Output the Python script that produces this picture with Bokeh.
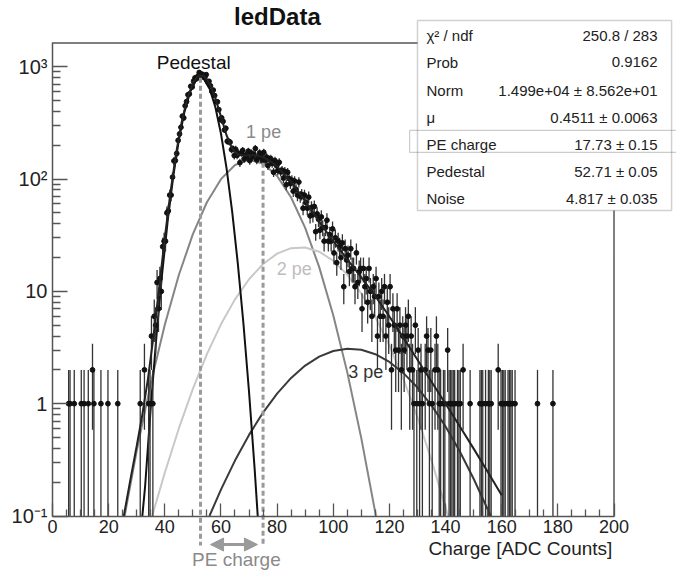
import numpy as np
from bokeh.plotting import figure
from bokeh.models import (Range1d, FixedTicker, Label, Arrow, NormalHead,
                          BoxAnnotation, ColumnDataSource)
from bokeh.embed import file_html
from bokeh.resources import INLINE

# ---------------- data (histogram "ledData", bin width 0.5 ADC) ----------------
bin_width = 0.5
main_first_centre = 35.25
main_counts = [4, 1, 6, 5, 12, 7, 13, 10, 25, 28,
               28, 50, 52, 72, 72, 104, 145, 146, 169, 221,
               252, 289, 363, 350, 449, 489, 563, 572, 670, 660,
               745, 796, 781, 821, 889, 808, 860, 841, 806, 851,
               738, 742, 677, 603, 620, 554, 488, 487, 415, 339,
               351, 326, 274, 283, 217, 217, 213, 183, 186, 162,
               184, 163, 169, 140, 171, 180, 151, 163, 158, 177,
               146, 171, 157, 166, 187, 148, 156, 171, 159, 146,
               173, 146, 157, 132, 150, 152, 138, 115, 146, 132,
               119, 141, 116, 120, 102, 117, 89, 115, 101, 91,
               98, 78, 96, 81, 72, 94, 70, 73, 55, 72,
               62, 55, 69, 47, 56, 48, 57, 34, 49, 44,
               35, 46, 37, 28, 37, 43, 28, 32, 28, 36,
               22, 30, 18, 28, 25, 20, 27, 11, 24, 19,
               21, 15, 24, 16, 16, 11, 22, 12, 15, 16,
               7, 16, 11, 13, 8, 16, 10, 6, 11, 9,
               13, 4, 9, 6, 10, 6, 11, 4, 8, 5,
               11, 2, 7, 5, 3, 7, 3, 5]

low_x = [5.75, 6.25, 7.75, 10.25, 11.25, 12.75, 14.25, 14.75, 17.25, 19.75, 23.25, 31.25, 32.75, 34.25, 34.75]
low_counts = [1, 1, 1, 1, 1, 1, 2, 1, 1, 1, 1, 1, 2, 1, 1]

tail_x = [124.25, 124.75, 125.25, 125.75, 126.25, 126.75, 127.25, 127.75, 128.25, 128.75,
          129.25, 129.75, 130.25, 130.75, 131.25, 131.75, 132.75, 133.25, 133.75, 134.25,
          134.75, 135.25, 136.25, 136.75, 137.25, 137.75, 138.25, 139.25, 139.75, 140.75,
          141.25, 141.75, 142.25, 142.75, 143.25, 144.25, 144.75, 145.25, 146.25, 148.75,
          152.25, 152.75, 153.25, 154.25, 155.25, 155.75, 156.25, 158.75, 159.75, 160.25,
          160.75, 161.25, 162.25, 162.75, 163.25, 163.75, 164.75, 172.75, 178.25]
tail_counts = [2, 4, 3, 5, 4, 6, 2, 4, 2, 1,
               5, 1, 3, 1, 2, 1, 2, 4, 3, 1,
               3, 1, 2, 4, 2, 1, 1, 1, 1, 3,
               1, 1, 1, 1, 1, 1, 1, 1, 2, 1,
               1, 1, 1, 1, 1, 1, 1, 2, 1, 1,
               1, 1, 1, 1, 1, 1, 1, 1, 1]

# fitted curves (each ends where it meets the 0.1 floor)
ped_x = [32.0, 33, 35, 37, 39, 41, 43, 45, 47, 49, 51, 52.71, 54, 56, 58, 60, 62, 64, 66, 68, 70, 72, 73.1]
ped_y = [0.1, 0.185, 0.928, 3.92, 13.94, 41.7, 105.0, 222.3, 396.3, 594.7, 751.1, 800, 771.9,
         633.6, 437.8, 254.6, 124.6, 51.3, 17.78, 5.20, 1.277, 0.263, 0.1]

pe1_x = [25.7, 30, 35, 40, 45, 50, 55, 60, 65, 70, 75, 80, 85, 90, 95, 100, 105, 110, 115.2]
pe1_y = [0.1, 0.380, 1.518, 5.04, 13.99, 32.3, 62.2, 99.8, 133.3, 148.4, 137.6, 106.4,
         68.5, 36.8, 16.44, 6.12, 1.90, 0.491, 0.1]

pe2_x = [35.5, 40, 45, 50, 55, 60, 65, 70, 75, 80, 85, 90, 95, 100, 105, 110, 115, 120, 125,
         130, 135, 140.9]
pe2_y = [0.1, 0.2427, 0.602, 1.356, 2.763, 5.09, 8.49, 12.82, 17.52, 21.68, 24.27,
         24.60, 22.56, 18.73, 14.08, 9.57, 5.90, 3.285, 1.657, 0.757, 0.3128, 0.1]

pe3_x = [55.9, 60, 65, 70, 75, 80, 85, 90, 95, 100, 105, 110, 115, 120, 125, 130, 135, 140,
         145, 150, 156.1]
pe3_y = [0.1, 0.1718, 0.3115, 0.5274, 0.834, 1.231, 1.697, 2.183, 2.624, 2.944, 3.085,
         3.018, 2.756, 2.351, 1.872, 1.392, 0.967, 0.627, 0.379, 0.2145, 0.1]

tot_x = [25.4, 27.5, 30, 32, 34, 36, 38, 40, 42, 44, 46, 48, 50, 52, 54, 56, 58, 60, 62, 64, 66,
         68, 70, 72, 74, 76, 78, 80, 85, 90, 95, 100, 105, 110, 115, 120, 125, 130, 135, 140,
         145, 150, 155, 160]
tot_y = [0.1, 0.195, 0.421, 0.80, 1.665, 4.02, 10.92, 29.9, 75.7, 168.1, 320.8, 520.7, 716.7,
         836.2, 829.8, 706.2, 526.4, 359.7, 245.6, 186.9, 165.6, 161.9, 163.0, 162.8, 159.2,
         152.1, 141.7, 129.4, 94.5, 63.7, 41.76, 27.97, 19.28, 13.34, 9.06, 5.97, 3.853, 2.463,
         1.570, 0.9995, 0.633, 0.398, 0.248, 0.153]

stat_names = ["\u03c7\u00b2 / ndf", "Prob", "Norm", "\u03bc", "PE charge", "Pedestal", "Noise"]
stat_values = ["250.8 / 283", "0.9162", "1.499e+04 \u00b1 8.562e+01", "0.4511 \u00b1 0.0063",
               "17.73 \u00b1 0.15", "52.71 \u00b1 0.05", "4.817 \u00b1 0.035"]

pedestal_pos = 52.71
pe_peak_pos = 75.0

x_ticks = [0, 20, 40, 60, 80, 100, 120, 140, 160, 180, 200]
y_ticks = [0.1, 1, 10, 100, 1000]
y_tick_labels = ["10\u207b\u00b9", "1", "10", "10\u00b2", "10\u00b3"]

# plotting box of the histogram (axis limits)
X_MIN, X_MAX = 0, 200
Y_MIN, Y_MAX = 0.1, 1630

# ---------------- build histogram columns ----------------
main_x = [main_first_centre + i * bin_width for i in range(len(main_counts))]
hx = np.array(low_x + main_x + tail_x, dtype=float)
hy = np.array(low_counts + main_counts + tail_counts, dtype=float)
err = np.sqrt(hy)
lo = np.maximum(hy - err, Y_MIN)   # error bars stop at the axis floor
hi = hy + err
src = ColumnDataSource(dict(x=hx, y=hy, lo=lo, hi=hi))

FONT = "Liberation Sans"

# the canvas is one frame; the histogram box sits inside it with axes at fixed locations
p = figure(width=676, height=575, x_range=Range1d(-18.52, 222.26), y_range=Range1d(0.02953, 3890),
           y_axis_type="log", output_backend="svg", toolbar_location=None,
           min_border_left=0, min_border_right=0, min_border_top=0, min_border_bottom=0)
p.xgrid.visible = False
p.ygrid.visible = False
p.outline_line_color = None
p.background_fill_color = "white"
p.border_fill_color = "white"

xa = p.xaxis[0]
xa.fixed_location = Y_MIN
xa.bounds = (X_MIN, X_MAX)
xa.ticker = FixedTicker(ticks=x_ticks, minor_ticks=[v for v in range(0, 201, 5) if v % 20])
ya = p.yaxis[0]
ya.fixed_location = X_MIN
ya.bounds = (Y_MIN, Y_MAX)
ya.ticker = FixedTicker(ticks=y_ticks,
                        minor_ticks=[m * 10.0 ** e for e in range(-1, 3) for m in range(2, 10)])
ya.major_label_overrides = {t: l for t, l in zip(y_ticks, y_tick_labels)}
for ax in (xa, ya):
    ax.axis_line_color = "#555555"
    ax.axis_line_width = 1.5
    ax.major_tick_line_color = "#555555"
    ax.minor_tick_line_color = "#555555"
    ax.major_tick_line_width = 1.3
    ax.minor_tick_line_width = 1.3
    ax.major_tick_out = 0
    ax.minor_tick_out = 0
    ax.major_label_text_font = FONT
    ax.major_label_text_color = "#222222"
xa.major_label_text_font_size = "18px"
ya.major_label_text_font_size = "20px"
xa.major_label_standoff = 4
ya.major_label_standoff = 5
xa.major_tick_in = 13
xa.minor_tick_in = 7
ya.major_tick_in = 15
ya.minor_tick_in = 8

# top and right edges of the histogram box
p.line([X_MIN, X_MAX, X_MAX], [Y_MAX, Y_MAX, Y_MIN], line_color="#555555", line_width=1.5)

# component curves
p.line(pe1_x, pe1_y, line_color="#858585", line_width=2)
p.line(pe2_x, pe2_y, line_color="#c8c8c8", line_width=2)
p.line(pe3_x, pe3_y, line_color="#3a3a3a", line_width=2)
p.line(ped_x, ped_y, line_color="#111111", line_width=2)

# data with error bars
p.segment(x0="x", y0="lo", x1="x", y1="hi", source=src, line_color="#333333", line_width=1.3)
p.scatter(x="x", y="y", source=src, size=4.8, fill_color="#111111", line_color="#111111")

# total fit
p.line(tot_x, tot_y, line_color="#222222", line_width=2)

# dashed markers and PE-charge arrow
p.segment(x0=[pedestal_pos, pe_peak_pos], y0=[800, 140], x1=[pedestal_pos, pe_peak_pos],
          y1=[0.0546, 0.0546], line_color="#9a9a9a", line_width=3, line_dash="5 3")
p.add_layout(Arrow(x_start=56.3, y_start=0.0557, x_end=73.0, y_end=0.0557,
                   start=NormalHead(size=13, fill_color="#9a9a9a", line_color="#9a9a9a"),
                   end=NormalHead(size=13, fill_color="#9a9a9a", line_color="#9a9a9a"),
                   line_color="#9a9a9a", line_width=3))
p.add_layout(Label(x=65.5, y=0.0410, text="PE charge", text_align="center", text_baseline="middle",
                   text_font=FONT, text_font_size="19px", text_color="#8a8a8a"))

# curve labels
p.add_layout(Label(x=50.3, y=1092, text="Pedestal", text_align="center", text_baseline="middle",
                   text_font=FONT, text_font_size="19px", text_color="#111111"))
p.add_layout(Label(x=75.2, y=260, text="1 pe", text_align="center", text_baseline="middle",
                   text_font=FONT, text_font_size="18px", text_color="#8a8a8a"))
p.add_layout(Label(x=86.1, y=15.7, text="2 pe", text_align="center", text_baseline="middle",
                   text_font=FONT, text_font_size="18px", text_color="#bdbdbd"))
p.add_layout(Label(x=111.6, y=1.90, text="3 pe", text_align="center", text_baseline="middle",
                   text_font=FONT, text_font_size="18px", text_color="#333333"))

# title and axis title
p.add_layout(Label(x=80.1, y=2805, text="ledData", text_align="center", text_baseline="middle",
                   text_font=FONT, text_font_size="24px", text_font_style="bold",
                   text_color="#111111"))
p.add_layout(Label(x=199.4, y=0.0514, text="Charge [ADC Counts]", text_align="right",
                   text_baseline="middle", text_font=FONT, text_font_size="19px",
                   text_color="#222222"))

# statistics box
p.add_layout(BoxAnnotation(left=130.0, right=220.5, bottom=52.5, top=2583,
                           fill_color="white", fill_alpha=1.0, line_color="#666666",
                           line_width=1.5, level="overlay"))
p.add_layout(BoxAnnotation(left=127.2, right=230.0, bottom=172.6, top=271,
                           fill_alpha=0.0, line_color="#555555", line_width=1.2, level="overlay"))
row_y = [1901, 1092, 615, 354, 203, 117, 67.2]
for name, val, yy in zip(stat_names, stat_values, row_y):
    p.add_layout(Label(x=133.2, y=yy, text=name, text_align="left", text_baseline="middle",
                       text_font=FONT, text_font_size="15px", text_color="#222222", level="overlay"))
    p.add_layout(Label(x=215.5, y=yy, text=val, text_align="right", text_baseline="middle",
                       text_font=FONT, text_font_size="15px", text_color="#222222", level="overlay"))

open("out.html", "w").write(file_html(p, INLINE))
